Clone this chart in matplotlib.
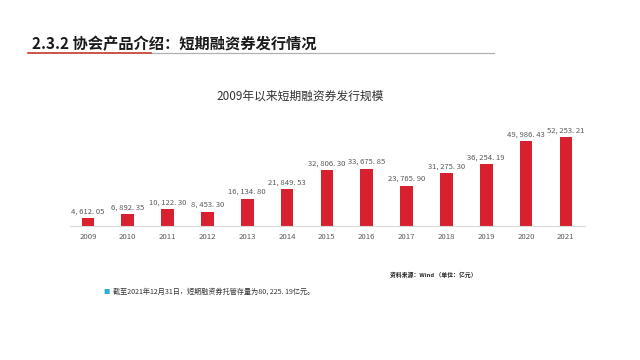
import matplotlib
matplotlib.use("Agg")
import matplotlib.pyplot as plt
from matplotlib.lines import Line2D

plt.rcParams["font.family"] = ["Noto Sans CJK SC", "DejaVu Sans"]

# ── data ───────────────────────────────────────────────────────────────────────
years = ["2009", "2010", "2011", "2012", "2013", "2014", "2015",
         "2016", "2017", "2018", "2019", "2020", "2021"]
issuance = [4612.05, 6892.35, 10122.30, 8453.30, 16134.80, 21849.53, 32806.30,
            33675.85, 23765.90, 31275.30, 36254.19, 49986.43, 52253.21]

RED = "#d9202e"
W, H = 640, 360

fig = plt.figure(figsize=(6.4, 3.6), dpi=100)

# header + underline
fig.text(32 / W, 1 - 44 / H, "2.3.2 协会产品介绍：短期融资券发行情况",
         fontsize=11, fontweight="bold", color="#1a1a1a", va="center", ha="left")
fig.add_artist(Line2D([150 / W, 494 / W], [1 - 53 / H] * 2, color="#b0b0b0", lw=0.9))
fig.add_artist(Line2D([28 / W, 151 / W], [1 - 53 / H] * 2, color="#c0392b", lw=1.2))

# chart title
fig.text(300 / W, 1 - 96 / H, "2009年以来短期融资券发行规模",
         fontsize=8.5, color="#333333", ha="center", va="center")

# ── bars ───────────────────────────────────────────────────────────────────────
ymax = 62000
base_px, top_px = 226, 137
ax_h = (base_px - top_px) * ymax / max(issuance)
ax = fig.add_axes([70 / W, 1 - base_px / H, (585 - 70) / W, ax_h / H])
x = list(range(len(years)))
bars = ax.bar(x, issuance, width=0.32, color=RED)
for b, v in zip(bars, issuance):
    lbl = f"{v:,.2f}".replace(",", ", ").replace(".", ". ")
    ax.text(b.get_x() + b.get_width() / 2, v + 1500, lbl,
            ha="center", va="bottom", fontsize=5.5, color="#595959")

ax.set_xlim(-0.45, 12.48)
ax.set_ylim(0, ymax)
ax.set_xticks(x)
ax.set_xticklabels(years, fontsize=5.6, color="#595959")
ax.tick_params(axis="x", length=0, pad=5)
ax.set_yticks([])
for s in ["top", "right", "left"]:
    ax.spines[s].set_visible(False)
ax.spines["bottom"].set_color("#d9d9d9")
ax.spines["bottom"].set_linewidth(0.8)
ax.patch.set_visible(False)

# source + note
fig.text(477 / W, 1 - 275 / H, "资料来源：Wind （单位：亿元）",
         fontsize=4.2, fontweight="bold", style="italic", color="#222222",
         ha="right", va="center")
fig.text(107 / W, 1 - 292 / H, "■", fontsize=4.5, color="#2ab0d8",
         ha="center", va="center")
fig.text(113 / W, 1 - 292 / H, "截至2021年12月31日，短期融资券托管存量为80, 225. 19亿元。",
         fontsize=5.1, color="#333333", ha="left", va="center")

plt.savefig("out.png", dpi=100)
